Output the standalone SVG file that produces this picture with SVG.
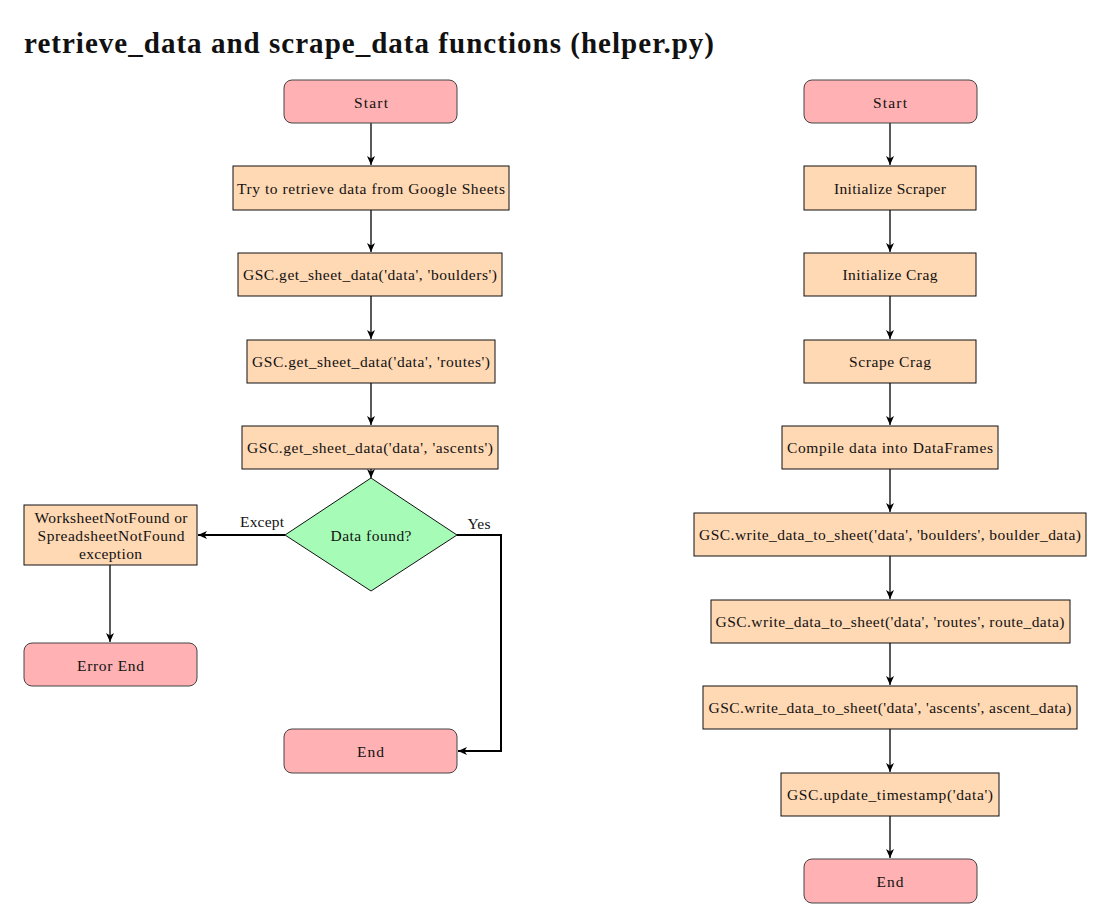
<svg xmlns="http://www.w3.org/2000/svg" width="1112" height="923" viewBox="0 0 1112 923">
<defs>
<marker id="arr" markerWidth="10" markerHeight="8" refX="9" refY="4" orient="auto" markerUnits="userSpaceOnUse">
<path d="M0,0 L9,4 L0,8 L2.5,4 Z" fill="#000"/>
</marker>
</defs>
<style>
text{font-family:"Liberation Serif","DejaVu Serif",serif;font-size:15.5px;fill:#111;text-anchor:middle;dominant-baseline:central}
.term{fill:#ffb1b4;stroke:#444;stroke-width:1}
.proc{fill:#ffd8b4;stroke:#111;stroke-width:1}
.dec{fill:#a6fbb6;stroke:#111;stroke-width:1}
.c{stroke:#000;stroke-width:1.3;fill:none;marker-end:url(#arr)}
.c2{stroke:#000;stroke-width:2;fill:none;marker-end:url(#arr)}
.title{font-size:29px;font-weight:bold;text-anchor:start;dominant-baseline:auto}
</style>
<rect width="1112" height="923" fill="#fff"/>
<text class="title" x="24" y="53" textLength="690" lengthAdjust="spacing">retrieve_data and scrape_data functions (helper.py)</text>

<g id="connectors">
<path class="c" d="M371,123 V165"/>
<path class="c" d="M371,210 V252"/>
<path class="c" d="M371,296 V339"/>
<path class="c" d="M371,383 V425"/>
<path class="c" d="M371,469 V478"/>
<path class="c2" d="M285,535 H198"/>
<path class="c2" d="M457,535 H501 V751 H458"/>
<path class="c" d="M110,565 V642"/>
<text x="262" y="521" textLength="44" lengthAdjust="spacing">Except</text>
<text x="479" y="523" textLength="23" lengthAdjust="spacing">Yes</text>

<path class="c" d="M890,123 V165"/>
<path class="c" d="M890,210 V252"/>
<path class="c" d="M890,296 V339"/>
<path class="c" d="M890,383 V425"/>
<path class="c" d="M890,469 V512"/>
<path class="c" d="M890,556 V599"/>
<path class="c" d="M890,643 V685"/>
<path class="c" d="M890,729 V772"/>
<path class="c" d="M890,816 V858"/>
</g>

<g id="l_start"><rect class="term" x="284" y="80" width="173" height="43" rx="8"/><text x="371" y="102" textLength="34" lengthAdjust="spacing">Start</text></g>
<g id="l_try"><rect class="proc" x="233" y="166" width="276" height="44"/><text x="371" y="188" textLength="268" lengthAdjust="spacing">Try to retrieve data from Google Sheets</text></g>
<g id="l_boulders"><rect class="proc" x="238" y="253" width="264" height="43"/><text x="370" y="274.5" textLength="254" lengthAdjust="spacing">GSC.get_sheet_data('data', 'boulders')</text></g>
<g id="l_routes"><rect class="proc" x="247" y="340" width="248" height="43"/><text x="371" y="361.5" textLength="238" lengthAdjust="spacing">GSC.get_sheet_data('data', 'routes')</text></g>
<g id="l_ascents"><rect class="proc" x="242" y="426" width="256" height="43"/><text x="370" y="447.5" textLength="246" lengthAdjust="spacing">GSC.get_sheet_data('data', 'ascents')</text></g>
<g id="l_decision"><polygon class="dec" points="371,478 457,535 371,591 285,535"/><text x="371" y="535" textLength="81" lengthAdjust="spacing">Data found?</text></g>
<g id="l_exception"><rect class="proc" x="24" y="505" width="173" height="60"/><text x="111" y="517" textLength="153" lengthAdjust="spacing">WorksheetNotFound or</text><text x="111" y="535" textLength="147" lengthAdjust="spacing">SpreadsheetNotFound</text><text x="110.5" y="553" textLength="63" lengthAdjust="spacing">exception</text></g>
<g id="l_error"><rect class="term" x="24" y="643" width="173" height="43" rx="8"/><text x="110.5" y="665" textLength="67" lengthAdjust="spacing">Error End</text></g>
<g id="l_end"><rect class="term" x="284" y="729" width="173" height="44" rx="8"/><text x="370.5" y="751" textLength="27" lengthAdjust="spacing">End</text></g>

<g id="r_start"><rect class="term" x="804" y="80" width="173" height="43" rx="8"/><text x="890" y="102" textLength="34" lengthAdjust="spacing">Start</text></g>
<g id="r_scraper"><rect class="proc" x="804" y="166" width="172" height="44"/><text x="890" y="188" textLength="112" lengthAdjust="spacing">Initialize Scraper</text></g>
<g id="r_crag"><rect class="proc" x="804" y="253" width="172" height="43"/><text x="890" y="274.5" textLength="95" lengthAdjust="spacing">Initialize Crag</text></g>
<g id="r_scrape"><rect class="proc" x="804" y="340" width="172" height="43"/><text x="890" y="361.5" textLength="82" lengthAdjust="spacing">Scrape Crag</text></g>
<g id="r_compile"><rect class="proc" x="782" y="426" width="216" height="43"/><text x="890" y="447.5" textLength="206" lengthAdjust="spacing">Compile data into DataFrames</text></g>
<g id="r_wboulders"><rect class="proc" x="694" y="513" width="392" height="43"/><text x="890" y="534.5" textLength="382" lengthAdjust="spacing">GSC.write_data_to_sheet('data', 'boulders', boulder_data)</text></g>
<g id="r_wroutes"><rect class="proc" x="711" y="600" width="359" height="43"/><text x="890" y="621.5" textLength="349" lengthAdjust="spacing">GSC.write_data_to_sheet('data', 'routes', route_data)</text></g>
<g id="r_wascents"><rect class="proc" x="703" y="686" width="374" height="43"/><text x="890" y="707.5" textLength="363" lengthAdjust="spacing">GSC.write_data_to_sheet('data', 'ascents', ascent_data)</text></g>
<g id="r_timestamp"><rect class="proc" x="781" y="773" width="218" height="43"/><text x="890" y="794.5" textLength="206" lengthAdjust="spacing">GSC.update_timestamp('data')</text></g>
<g id="r_end"><rect class="term" x="804" y="859" width="173" height="44" rx="8"/><text x="890" y="881" textLength="27" lengthAdjust="spacing">End</text></g>
</svg>
